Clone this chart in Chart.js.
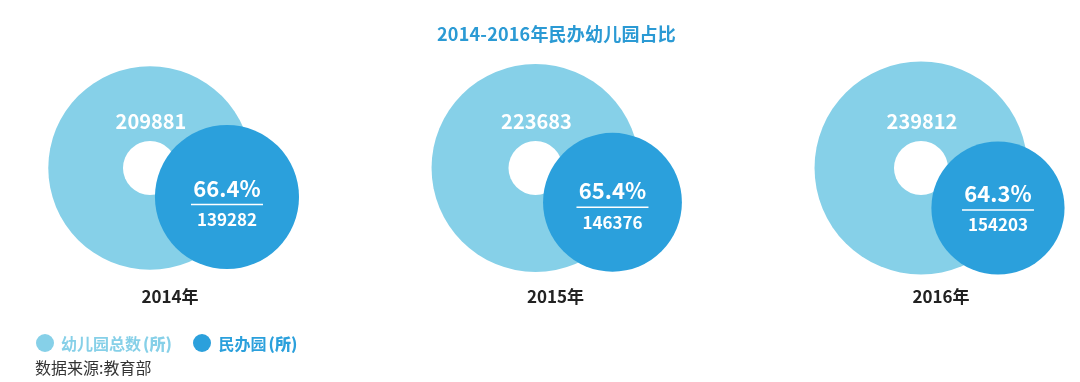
<!DOCTYPE html>
<html>
<head>
<meta charset="utf-8">
<script src="https://cdn.jsdelivr.net/npm/chart.js@4.4.0/dist/chart.umd.min.js"></script>
<style>
    html, body { margin: 0; padding: 0; background: #fff; }
    #wrap { position: relative; width: 1080px; height: 382px; font-family: "Noto Sans CJK SC", sans-serif; }
    #wrap canvas { position: absolute; left: 0; top: 0; }
    .title { position: absolute; left: 437px; top: 24px; line-height: 18px; font-size: 18px; font-weight: bold; color: #2b9ad4; white-space: nowrap; letter-spacing: 0.2px; }
    .legend { position: absolute; left: 36px; top: 331px; line-height: 18px; font-size: 16px; font-weight: bold; white-space: nowrap; }
    .legend span { display: inline-block; vertical-align: middle; }
    .dot { width: 18px; height: 18px; border-radius: 50%; margin-right: 7px; }
    .gap { margin-left: 2px; }
    .source { position: absolute; left: 35px; top: 359px; line-height: 16px; font-size: 16px; color: #333; white-space: nowrap; }
</style>
</head>
<body>
<div id="wrap">
    <canvas id="circleChart" width="1080" height="382"></canvas>
    <div class="title">2014-2016年民办幼儿园占比</div>
    <div class="legend">
        <span class="dot" style="background:#86d0e8"></span><span style="color:#86d0e8;margin-right:18px">幼儿园总数<b class="gap">(所)</b></span>
        <span class="dot" style="background:#2ba0dc"></span><span style="color:#2ba0dc">民办园<b class="gap">(所)</b></span>
    </div>
    <div class="source">数据来源:教育部</div>
</div>
<script>
const years = ['2014年', '2015年', '2016年'];
const totalKindergartens = [209881, 223683, 239812];
const privateKindergartens = [139282, 146376, 154203];
const privateShare = [66.4, 65.4, 64.3];

const lightBlue = '#86d0e8';
const darkBlue = '#2ba0dc';
const fontFamily = '"Noto Sans CJK SC", sans-serif';

// writes the numbers onto the circles and the year under each group
const circleLabels = {
    id: 'circleLabels',
    afterDatasetsDraw(chart) {
        const c = chart.ctx;
        const bigMeta = chart.getDatasetMeta(2);
        const darkMeta = chart.getDatasetMeta(0);
        c.save();
        c.textAlign = 'center';
        c.textBaseline = 'middle';
        years.forEach((year, i) => {
            const big = bigMeta.data[i];
            const dark = darkMeta.data[i];

            c.fillStyle = '#fff';
            c.font = 'bold 20px ' + fontFamily;
            c.fillText(String(totalKindergartens[i]), big.x + 1, big.y - 47);

            const py = (big.y + dark.y) / 2 + 6;
            c.font = 'bold 22px ' + fontFamily;
            c.fillText(privateShare[i].toFixed(1) + '%', dark.x, py);

            c.strokeStyle = '#fff';
            c.lineWidth = 1.5;
            c.beginPath();
            c.moveTo(dark.x - 36, py + 16);
            c.lineTo(dark.x + 36, py + 16);
            c.stroke();

            c.font = 'bold 17px ' + fontFamily;
            c.fillText(String(privateKindergartens[i]), dark.x, py + 31);

            c.fillStyle = '#222';
            c.font = 'bold 17px ' + fontFamily;
            c.fillText(year, big.x + 20, big.y + 129);
        });
        c.restore();
    }
};

new Chart(document.getElementById('circleChart').getContext('2d'), {
    type: 'bubble',
    data: {
        datasets: [
            {
                label: '民办园(所)',
                data: privateShare.map((s, i) => ({ x: i, y: s })),
                xAxisID: 'xd',
                yAxisID: 'yd',
                backgroundColor: darkBlue,
                borderWidth: 0,
                radius: ctx => 2.6 * privateShare[ctx.dataIndex] - 100.6,
                order: 0
            },
            {
                label: 'hole',
                data: totalKindergartens.map((v, i) => ({ x: i, y: 0 })),
                backgroundColor: '#fff',
                borderWidth: 0,
                radius: 27,
                order: 1
            },
            {
                label: '幼儿园总数(所)',
                data: totalKindergartens.map((v, i) => ({ x: i, y: 0 })),
                backgroundColor: lightBlue,
                borderWidth: 0,
                radius: ctx => 33 + 0.15 * Math.sqrt(totalKindergartens[ctx.dataIndex]),
                order: 2
            }
        ]
    },
    options: {
        responsive: false,
        animation: false,
        events: [],
        devicePixelRatio: 1,
        layout: { autoPadding: false, padding: 0 },
        plugins: {
            legend: { display: false },
            tooltip: { enabled: false }
        },
        scales: {
            x: { type: 'linear', display: false, min: -0.3891, max: 2.4125 },
            y: { type: 'linear', display: false, min: -214, max: 168 },
            xd: { type: 'linear', display: false, min: -0.5888, max: 2.2128 },
            yd: { type: 'linear', display: false, min: 31.1, max: 104.0 }
        }
    },
    plugins: [circleLabels]
});
</script>
</body>
</html>
